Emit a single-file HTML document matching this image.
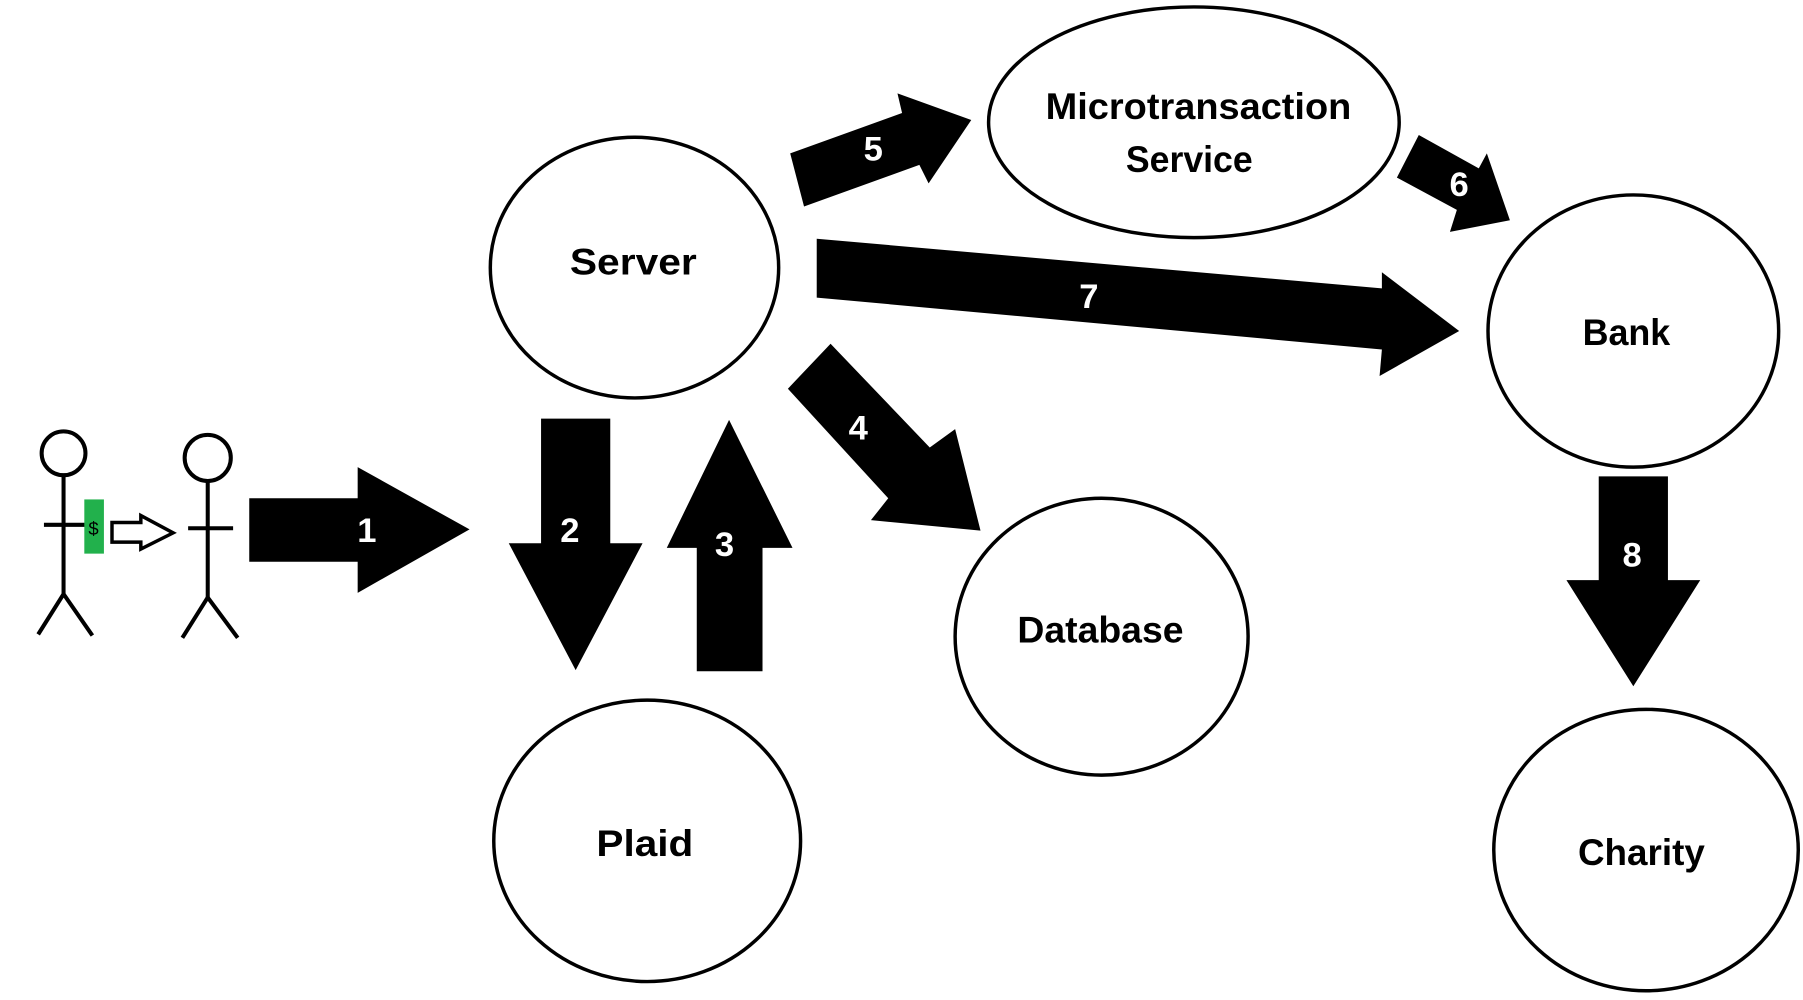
<!DOCTYPE html>
<html><head><meta charset="utf-8"><style>
html,body{margin:0;padding:0;background:#fff;}
svg{display:block}
text{font-family:"Liberation Sans",sans-serif;font-weight:bold;}
</style></head><body>
<svg width="1803" height="1000" viewBox="0 0 1563 867" xmlns="http://www.w3.org/2000/svg">
<g fill="none" stroke="#000" stroke-width="3">
<ellipse cx="550" cy="232" rx="125" ry="113"/>
<ellipse cx="1035" cy="106" rx="178" ry="100"/>
<ellipse cx="1416" cy="287" rx="126" ry="118"/>
<ellipse cx="955" cy="552" rx="127" ry="120"/>
<ellipse cx="561" cy="729" rx="133" ry="122"/>
<ellipse cx="1427" cy="737" rx="132" ry="122"/>
</g>
<g fill="#000">
<polygon points="216,432 310,432 310,405 407,459 310,514 310,487 216,487"/>
<polygon points="469,363 529,363 529,471 557,471 499,581 441,471 469,471"/>
<polygon points="604,582 661,582 661,475 687,475 632,364 578,475 604,475"/>
<polygon points="683,337 720,298 806,388 828,372 850,460 755,451 770,432"/>
<polygon points="685,133 782,98 778,81 842,104 805,159 797,143 697,179"/>
<polygon points="1211,154 1230,117 1282,146 1289,133 1309,191 1257,201 1263,182"/>
<polygon points="708,207 1198,250 1198,236 1265,287 1196,326 1198,303 708,258"/>
<polygon points="1386,413 1446,413 1446,503 1474,503 1416,595 1358,503 1386,503"/>
</g>
<g fill="#fff" font-size="30" text-anchor="middle">
<text x="318" y="470">1</text>
<text x="494" y="470">2</text>
<text x="628" y="482">3</text>
<text x="744" y="381">4</text>
<text x="757" y="139">5</text>
<text x="1265" y="170">6</text>
<text x="944" y="267">7</text>
<text x="1415" y="491">8</text>
</g>
<g fill="#000" font-size="32" text-anchor="middle">
<text x="549" y="238" textLength="110" lengthAdjust="spacingAndGlyphs">Server</text>
<text x="1039" y="103" textLength="265" lengthAdjust="spacingAndGlyphs">Microtransaction</text>
<text x="1031" y="149" textLength="110" lengthAdjust="spacingAndGlyphs">Service</text>
<text x="1410" y="299" textLength="76" lengthAdjust="spacingAndGlyphs">Bank</text>
<text x="954" y="557" textLength="144" lengthAdjust="spacingAndGlyphs">Database</text>
<text x="559" y="742" textLength="84" lengthAdjust="spacingAndGlyphs">Plaid</text>
<text x="1423" y="750" textLength="110" lengthAdjust="spacingAndGlyphs">Charity</text>
</g>
<g fill="none" stroke="#000" stroke-width="3.5">
<circle cx="55" cy="393" r="19"/>
<line x1="55" y1="412" x2="55" y2="515"/>
<line x1="38" y1="455" x2="75" y2="455"/>
<polyline points="33,550 55,515 80,551"/>
<circle cx="180" cy="397" r="20"/>
<line x1="180" y1="417" x2="180" y2="518"/>
<line x1="163" y1="458" x2="202" y2="458"/>
<polyline points="158,553 180,518 206,553"/>
</g>
<rect x="73" y="433" width="17" height="47" fill="#22b14c"/>
<text x="81" y="464" font-size="16" text-anchor="middle" fill="#000" style="font-weight:normal">$</text>
<polygon points="97,453 122,453 122,447 150,462 122,476 122,470 97,470" fill="#fff" stroke="#000" stroke-width="3"/>
</svg>
</body></html>
